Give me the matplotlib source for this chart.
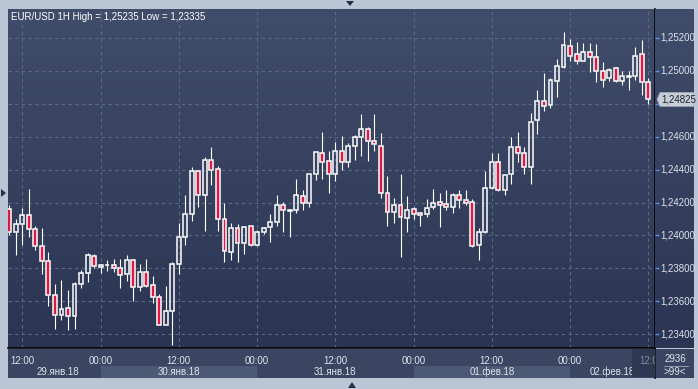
import numpy as np
import matplotlib
matplotlib.use('Agg')
from matplotlib import pyplot as plt
from matplotlib.colors import LinearSegmentedColormap
from matplotlib.patches import Polygon, Rectangle
import matplotlib.transforms as mtransforms

plt.rcParams['font.family'] = ['Liberation Sans', 'DejaVu Sans']

# EUR/USD hourly candles, 29.01.18 10:00 .. 02.02.18 12:00
opens = [1.24160, 1.24020, 1.24070, 1.24125, 1.24040, 1.23935, 1.23845, 1.23640, 1.23520, 1.23560,
         1.23510, 1.23705, 1.23770, 1.23875, 1.23810, 1.23820, 1.23820, 1.23805, 1.23765, 1.23850,
         1.23690, 1.23780, 1.23700, 1.23630, 1.23460, 1.23540, 1.23825, 1.23990, 1.24130, 1.24390,
         1.24245, 1.24455, 1.24405, 1.24100, 1.23900, 1.24045, 1.23955, 1.24055, 1.23940, 1.24020,
         1.24050, 1.24080, 1.24185, 1.24150, 1.24155, 1.24240, 1.24195, 1.24370, 1.24500, 1.24450,
         1.24375, 1.24515, 1.24445, 1.24545, 1.24595, 1.24645, 1.24575, 1.24545, 1.24255, 1.24140,
         1.24185, 1.24105, 1.24160, 1.24135, 1.24130, 1.24170, 1.24205, 1.24190, 1.24175, 1.24245,
         1.24215, 1.24205, 1.23940, 1.24020, 1.24285, 1.24445, 1.24275, 1.24370, 1.24535, 1.24500,
         1.24415, 1.24700, 1.24815, 1.24790, 1.24935, 1.25020, 1.25150, 1.25100, 1.25060, 1.25115,
         1.25080, 1.25000, 1.24955, 1.25015, 1.24935, 1.24960, 1.24965, 1.25100, 1.24930]
highs = [1.24185, 1.24100, 1.24165, 1.24280, 1.24055, 1.24045, 1.23900, 1.23705, 1.23730, 1.23670,
         1.23720, 1.23790, 1.23895, 1.23890, 1.23830, 1.23850, 1.23855, 1.23855, 1.23880, 1.23860,
         1.23830, 1.23860, 1.23755, 1.23645, 1.23695, 1.23840, 1.24075, 1.24245, 1.24415, 1.24395,
         1.24475, 1.24535, 1.24420, 1.24200, 1.24075, 1.24070, 1.24060, 1.24060, 1.24035, 1.24050,
         1.24130, 1.24245, 1.24205, 1.24155, 1.24345, 1.24275, 1.24375, 1.24505, 1.24625, 1.24510,
         1.24565, 1.24605, 1.24560, 1.24610, 1.24735, 1.24660, 1.24735, 1.24620, 1.24360, 1.24225,
         1.24375, 1.24240, 1.24175, 1.24145, 1.24220, 1.24280, 1.24255, 1.24275, 1.24255, 1.24275,
         1.24275, 1.24220, 1.24045, 1.24390, 1.24500, 1.24500, 1.24365, 1.24595, 1.24625, 1.24535,
         1.24745, 1.24885, 1.24985, 1.24955, 1.25070, 1.25235, 1.25190, 1.25170, 1.25165, 1.25165,
         1.25160, 1.25050, 1.25015, 1.25020, 1.24995, 1.24995, 1.25145, 1.25185, 1.24955]
lows = [1.24005, 1.23880, 1.23940, 1.23990, 1.23910, 1.23765, 1.23575, 1.23435, 1.23485, 1.23425,
        1.23435, 1.23680, 1.23720, 1.23800, 1.23775, 1.23785, 1.23780, 1.23680, 1.23725, 1.23600,
        1.23665, 1.23690, 1.23590, 1.23455, 1.23455, 1.23335, 1.23765, 1.23945, 1.24085, 1.24175,
        1.24030, 1.24305, 1.24025, 1.23840, 1.23850, 1.23840, 1.23890, 1.23935, 1.23935, 1.24010,
        1.23960, 1.24060, 1.24020, 1.23990, 1.24135, 1.24155, 1.24175, 1.24335, 1.24345, 1.24255,
        1.24330, 1.24395, 1.24415, 1.24460, 1.24480, 1.24450, 1.24510, 1.24230, 1.24055, 1.24075,
        1.23870, 1.24020, 1.24100, 1.24055, 1.24115, 1.24160, 1.24050, 1.24155, 1.24135, 1.24165,
        1.24185, 1.23930, 1.23850, 1.24015, 1.24280, 1.24270, 1.24245, 1.24315, 1.24445, 1.24370,
        1.24315, 1.24615, 1.24755, 1.24775, 1.24840, 1.25015, 1.25055, 1.25040, 1.25055, 1.24990,
        1.24930, 1.24900, 1.24935, 1.24930, 1.24915, 1.24880, 1.24945, 1.24850, 1.24800]
closes = [1.24020, 1.24070, 1.24125, 1.24040, 1.23935, 1.23845, 1.23640, 1.23520, 1.23555, 1.23510,
          1.23705, 1.23770, 1.23880, 1.23815, 1.23820, 1.23820, 1.23805, 1.23760, 1.23850, 1.23690,
          1.23780, 1.23695, 1.23625, 1.23460, 1.23540, 1.23825, 1.23990, 1.24130, 1.24390, 1.24245,
          1.24455, 1.24400, 1.24100, 1.23905, 1.24045, 1.23955, 1.24050, 1.23940, 1.24020, 1.24045,
          1.24080, 1.24185, 1.24155, 1.24155, 1.24245, 1.24195, 1.24370, 1.24505, 1.24445, 1.24370,
          1.24510, 1.24445, 1.24545, 1.24595, 1.24645, 1.24575, 1.24555, 1.24260, 1.24140, 1.24185,
          1.24110, 1.24155, 1.24130, 1.24125, 1.24165, 1.24200, 1.24185, 1.24175, 1.24245, 1.24215,
          1.24200, 1.23935, 1.24020, 1.24285, 1.24445, 1.24275, 1.24365, 1.24535, 1.24500, 1.24415,
          1.24690, 1.24815, 1.24785, 1.24940, 1.25025, 1.25155, 1.25090, 1.25055, 1.25110, 1.25080,
          1.25000, 1.24945, 1.25005, 1.24935, 1.24965, 1.24965, 1.25090, 1.24930, 1.24825]

price_ticks = [1.234, 1.236, 1.238, 1.240, 1.242, 1.244, 1.246, 1.248, 1.250, 1.252]
time_idx = [2, 14, 26, 38, 50, 62, 74, 86, 98]   # candle index of each 12h gridline
time_labels = ['12:00', '00:00', '12:00', '00:00', '12:00', '00:00', '12:00', '00:00', '12:0']
day_starts = [-0.2, 14, 38, 62, 86]
day_labels = ['29.янв.18', '30.янв.18', '31.янв.18', '01.фев.18', '02.фев.18']
last_price = 1.24825
title = 'EUR/USD 1H High = 1,25235 Low = 1,23335'

W, H = 698, 389
fig = plt.figure(figsize=(W / 100, H / 100), dpi=100, facecolor='#bac6d5')


def px_axes(x0, y0, x1, y1):
    return fig.add_axes([x0 / W, 1 - y1 / H, (x1 - x0) / W, (y1 - y0) / H])


bg = LinearSegmentedColormap.from_list('bg', ['#404d6a', '#2b3553'])


def paint(a):
    a.imshow(np.linspace(0, 1, 256).reshape(-1, 1), cmap=bg, aspect='auto',
             extent=(0, 1, 0, 1), transform=a.transAxes, zorder=0)


XL = (-0.2, 99.03)
YL = (1.23318, 1.25373)
TXT = '#dde3ec'

# main chart
ax = px_axes(8, 9, 655, 348)
paint(ax)
o, h, l, c = map(np.array, (opens, highs, lows, closes))
x = np.arange(len(o))
top = np.maximum(o, c)
bot = np.minimum(o, c)
ax.vlines(x, top, h, color='white', lw=0.8, zorder=3)
ax.vlines(x, l, bot, color='white', lw=0.8, zorder=3)
fills = ['none' if cc >= oo else '#e2163f' for oo, cc in zip(o, c)]
ax.bar(x, np.maximum(top - bot, 0.00001), bottom=bot, width=0.6, color=fills,
       edgecolor='white', linewidth=1.1, zorder=4)
ax.set_xlim(*XL)
ax.set_ylim(*YL)
ax.set_xticks(time_idx)
ax.set_yticks(price_ticks)
ax.grid(True, color='#5b6988', ls=(0, (3, 3)), lw=0.8, zorder=1)
ax.tick_params(length=0, labelbottom=False, labelleft=False)
for s in ('left', 'top'):
    ax.spines[s].set_visible(False)
for s in ('right', 'bottom'):
    ax.spines[s].set_color('black')
    ax.spines[s].set_linewidth(1.2)

# price scale on the right
axr = px_axes(655, 9, 694, 348)
paint(axr)
axr.set_xlim(0, 1)
axr.set_ylim(*YL)
axr.set_xticks([])
axr.set_yticks(price_ticks)
axr.tick_params(axis='y', direction='in', length=3, width=1, color='#5b8fe0', labelleft=False)
for s in axr.spines.values():
    s.set_visible(False)
tr = mtransforms.blended_transform_factory(axr.transAxes, axr.transData)
for p in price_ticks:
    if abs(p - last_price) < 0.0006:
        continue  # covered by the current-price marker
    axr.text(0.14, p, f'{p:.5f}'.replace('.', ','), transform=tr, ha='left', va='center',
             fontsize=7, color=TXT)
dy = 7 / 16500
axr.add_patch(Polygon([(0.05, last_price), (0.13, last_price + dy), (1.0, last_price + dy),
                       (1.0, last_price - dy), (0.13, last_price - dy)], closed=True,
                      transform=tr, facecolor='#c9ced6', edgecolor='#9aa3b0', lw=0.6, zorder=5))
axr.text(0.15, last_price, f'{last_price:.5f}'.replace('.', ','), transform=tr, ha='left',
         va='center', fontsize=7, color='#1c2230', zorder=6)

# time scale at the bottom
axb = px_axes(8, 349, 655, 378)
axb.set_facecolor('#3a4661')
axb.set_xlim(*XL)
axb.set_ylim(0, 1)
axb.set_xticks([])
axb.set_yticks([])
for s in ('left', 'top', 'bottom'):
    axb.spines[s].set_visible(False)
axb.spines['right'].set_color('black')
axb.spines['right'].set_linewidth(1.2)
ends = day_starts[1:] + [XL[1]]
for i, (d0, d1, lab) in enumerate(zip(day_starts, ends, day_labels)):
    if i % 2 == 1:
        axb.axvspan(d0, d1, 0, 0.42, color='#4b5975', lw=0, zorder=1)
    xc = 7.5 if i == 0 else (26 + 24 * (i - 1) if i < 4 else (d0 + d1) / 2)
    axb.text(xc, 0.2, lab, ha='center', va='center', fontsize=7, color=TXT, zorder=2, clip_on=True)
for t, lab in zip(time_idx[:-1], time_labels[:-1]):
    axb.text(t, 0.6, lab, ha='center', va='center', fontsize=7, color=TXT, zorder=2)
axb.add_patch(Rectangle((95.5, 0.05), XL[1] - 95.5, 0.95, facecolor='#2e3852', lw=0, zorder=3))
axb.text(time_idx[-1], 0.6, time_labels[-1], ha='center', va='center', fontsize=7,
         color='#7f8ca3', zorder=4, clip_on=True)

# counter box bottom right
axc = px_axes(656, 349, 694, 378)
axc.set_xlim(0, 1)
axc.set_ylim(0, 1)
axc.axis('off')
axc.add_patch(Rectangle((0, 0), 1, 1, facecolor='#3a4661', lw=0))
axc.text(0.5, 0.64, '2936', ha='center', va='center', fontsize=7, color=TXT)
axc.plot([0.2, 0.85], [0.43, 0.43], color='#9aa6b8', lw=0.6)
axc.text(0.5, 0.2, '>99<', ha='center', va='center', fontsize=7, color=TXT)

# title
fig.text(11 / W, 1 - 17 / H, title, color='white', fontsize=7, ha='left', va='center')

# frame markers
for pts in ([(346, 1), (354, 1), (350, 6)], [(1, 189), (1, 197), (6, 193)],
            [(348, 388), (356, 388), (352, 382)]):
    fig.patches.append(Polygon([(px / W, 1 - py / H) for px, py in pts], closed=True,
                               transform=fig.transFigure, facecolor='#26304a', lw=0))

fig.savefig('out.png', dpi=100, facecolor=fig.get_facecolor())
